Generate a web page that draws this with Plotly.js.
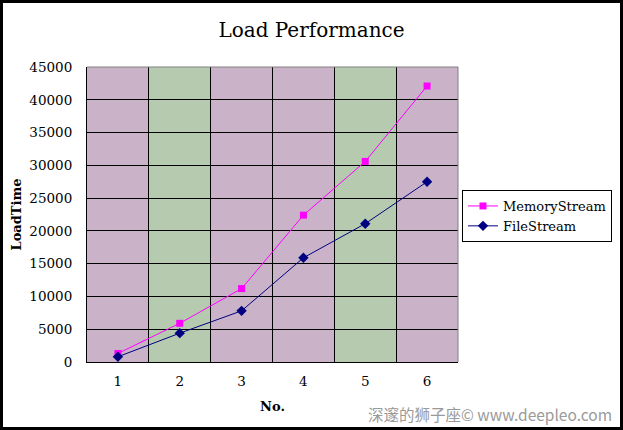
<!DOCTYPE html>
<html>
<head>
<meta charset="utf-8">
<script src="https://cdn.plot.ly/plotly-3.0.1.min.js"></script>
<style>
html,body{margin:0;padding:0;background:#fff;}
#frame{width:623px;height:430px;box-sizing:border-box;border:3px solid #000;overflow:hidden;}
#chart{width:617px;height:424px;}
</style>
</head>
<body>
<div id="frame"><div id="chart"></div></div>
<script>
var categories = ['1', '2', '3', '4', '5', '6'];
var memoryStream = [1300, 5900, 11200, 22400, 30600, 42100];
var fileStream = [800, 4400, 7800, 15900, 21100, 27500];
var yTicks = [0, 5000, 10000, 15000, 20000, 25000, 30000, 35000, 40000, 45000];
var bandKinds = ['pink', 'green', 'pink', 'pink', 'green', 'pink'];

var serif = 'DejaVu Serif, Liberation Serif, serif';

var traces = [
  {
    x: categories, y: memoryStream, name: 'MemoryStream', type: 'scatter', mode: 'lines+markers',
    line: {color: '#FF00FF', width: 1},
    marker: {symbol: 'square', size: 7, color: '#FF00FF'}
  },
  {
    x: categories, y: fileStream, name: 'FileStream', type: 'scatter', mode: 'lines+markers',
    line: {color: '#000080', width: 1},
    marker: {symbol: 'diamond', size: 8, color: '#000080'}
  }
];

var shapes = [];
bandKinds.forEach(function (k, i) {
  shapes.push({
    type: 'rect', xref: 'x', yref: 'paper', x0: i - 0.5, x1: i + 0.5, y0: 0, y1: 1,
    fillcolor: k === 'pink' ? '#cab3c8' : '#b6cab0', line: {width: 0}, layer: 'below'
  });
});
shapes.push({type: 'line', xref: 'paper', yref: 'paper', x0: 0, x1: 1, y0: 1, y1: 1, line: {color: '#808080', width: 1}, layer: 'above'});
shapes.push({type: 'line', xref: 'paper', yref: 'paper', x0: 1, x1: 1, y0: 0, y1: 1, line: {color: '#808080', width: 1}, layer: 'above'});

var layout = {
  width: 617, height: 424,
  margin: {l: 84, r: 162, t: 64, b: 65, autoexpand: false},
  paper_bgcolor: '#ffffff',
  plot_bgcolor: '#c0bcc0',
  showlegend: true,
  title: {
    text: 'Load Performance', x: 0.5, xref: 'container', xanchor: 'center',
    y: 1 - 27 / 424, yref: 'container', yanchor: 'middle',
    font: {family: serif, size: 20, color: '#000'}
  },
  xaxis: {
    type: 'category', categoryorder: 'array', categoryarray: categories,
    tickson: 'boundaries', showgrid: true, gridcolor: '#000', gridwidth: 1,
    showline: true, linecolor: '#000', linewidth: 1, ticks: '',
    ticklabelstandoff: 7,
    tickfont: {family: serif, size: 13.5, color: '#000'},
    title: {text: '<b>No.</b>', font: {family: serif, size: 13, color: '#000'}, standoff: 13},
    fixedrange: true
  },
  yaxis: {
    range: [0, 45000], tickvals: yTicks, ticktext: yTicks.map(String),
    showgrid: true, gridcolor: '#000', gridwidth: 1, zeroline: false,
    showline: true, linecolor: '#000', linewidth: 1, ticks: '',
    ticklabelstandoff: 11,
    tickfont: {family: serif, size: 13.5, color: '#000'},
    title: {text: '<b>LoadTime</b>', font: {family: serif, size: 13, color: '#000'}, standoff: 4},
    fixedrange: true
  },
  legend: {
    x: (459 - 84) / 371, xanchor: 'left', y: 1 - (187 - 64) / 295, yanchor: 'top',
    bgcolor: '#ffffff', bordercolor: '#000', borderwidth: 1,
    font: {family: serif, size: 13, color: '#000'},
    tracegroupgap: 0, itemwidth: 30
  },
  shapes: shapes,
  annotations: [{
    text: '深邃的狮子座© www.deepleo.com', showarrow: false,
    xref: 'paper', yref: 'paper', x: (611 - 84) / 371, xanchor: 'right',
    y: 1 - (411 - 64) / 295, yanchor: 'middle',
    font: {family: 'Noto Sans CJK SC, Noto Sans, sans-serif', size: 15.5, color: '#9a9a9a'}
  }]
};

Plotly.newPlot('chart', traces, layout, {staticPlot: true, displayModeBar: false});
</script>
</body>
</html>
